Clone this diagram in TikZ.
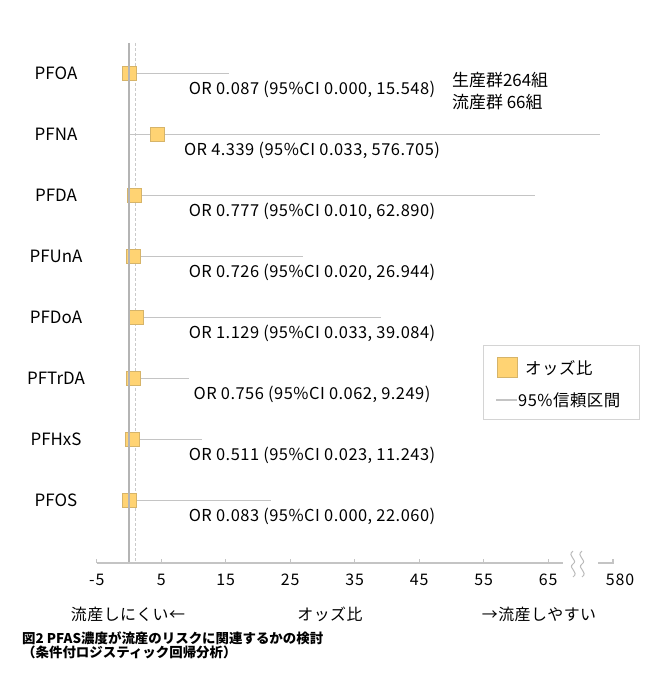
\documentclass[tikz,border=0pt]{standalone}
\usepackage{fontspec}
\setmainfont{Noto Sans CJK JP}
\newfontfamily\wideface[LetterSpace=3]{Noto Sans CJK JP}
\newfontfamily\tickface[LetterSpace=6]{Noto Sans CJK JP}
\usepackage{xcolor}
\usepackage{tikz}
\usetikzlibrary{positioning}

\definecolor{orfill}{RGB}{255,211,115}
\definecolor{ordraw}{RGB}{214,180,105}
\definecolor{cigray}{RGB}{196,196,196}
\definecolor{axgray}{RGB}{180,180,180}
\definecolor{boxgray}{RGB}{212,212,212}

\tikzset{
  orbox/.style={draw=ordraw, fill=orfill, line width=0.8bp, minimum size=14bp, inner sep=0pt},
  ciline/.style={cigray, line width=1.6bp},
  ortext/.style={font=\fontsize{16.5}{18}\wideface},
  rowlab/.style={font=\fontsize{17}{18}\selectfont},
  keytext/.style={font=\fontsize{16.5}{18}\wideface, anchor=west, inner sep=0pt},
  ticklab/.style={font=\fontsize{16}{18}\tickface},
  sidelab/.style={font=\fontsize{16}{18}\wideface},
  notetext/.style={font=\fontsize{17}{22}\selectfont, align=left, inner sep=0pt}
}

\begin{document}
\begin{tikzpicture}[x=1bp,y=-1bp]
\useasboundingbox (0,0) rectangle (650,681);

\draw[axgray!70, line width=0.8bp, dash pattern=on 3bp off 2bp] (135,43) -- (135,563);

\foreach \i/\name/\oddsr/\lo/\hi in {
  1/PFOA/0.087/0.000/15.548,
  2/PFNA/4.339/0.033/576.705,
  3/PFDA/0.777/0.010/62.890,
  4/PFUnA/0.726/0.020/26.944,
  5/PFDoA/1.129/0.033/39.084,
  6/PFTrDA/0.756/0.062/9.249,
  7/PFHxS/0.511/0.023/11.243,
  8/PFOS/0.083/0.000/22.060} {
  \pgfmathsetmacro{\y}{73.5+61*(\i-1)}
  \node[rowlab] (lab-\i) at (56,\y) {\name};
  \draw[ciline] ({129+6.45*\lo},\y) -- ({129+6.45*min(\hi,73)},\y);
  \node[orbox] (sq-\i) at ({129+6.45*\oddsr},\y) {};
  \node[ortext] (ci-\i) at (312,\y+16) {OR \oddsr{} (95\%CI \lo, \hi)};
}

\draw[axgray, line width=1.5bp] (129,43) -- (129,563);

\draw[cigray, line width=1.2bp] (96.7,563) -- (563,563);
\foreach \v in {-5,5,...,65} {
  \draw[cigray, line width=1bp] ({129+6.45*\v},563) -- ({129+6.45*\v},559);
  \node[ticklab] at ({129+6.45*\v},580) {\v};
}
\draw[cigray, line width=1.2bp] (598,563) -- (613,563) -- (613,559);
\node[ticklab] at (620,580) {580};
\draw[axgray!90, line width=1bp] (573,551) .. controls (566,556) and (579,560) .. (573,564) .. controls (567,568) and (580,572) .. (573,577);
\draw[axgray!90, line width=1bp] (582,551) .. controls (575,556) and (588,560) .. (582,564) .. controls (576,568) and (589,572) .. (582,577);

\node[notetext, anchor=north west] (note) at (452,72) {生産群264組\\流産群 66組};

\draw[boxgray, line width=1bp] (483,345) rectangle (639,419);
\node[orbox, minimum size=20bp] (key-or) at (507,367.5) {};
\node[keytext] (key-ortext) at (525,368) {オッズ比};
\draw[ciline] (496,400) -- (517,400);
\node[keytext] (key-citext) at (518,400) {95\%信頼区間};

\node[sidelab] (less) at (128,614) {流産しにくい←};
\node[sidelab] (axtitle) at (330,614) {オッズ比};
\node[sidelab] (more) at (539,614) {→流産しやすい};

\node[anchor=north west, align=left, inner sep=0pt, font=\fontsize{13.5}{15}\selectfont\bfseries] (caption) at (22,631) {図2 PFAS濃度が流産のリスクに関連するかの検討\\（条件付ロジスティック回帰分析）};
\end{tikzpicture}
\end{document}
